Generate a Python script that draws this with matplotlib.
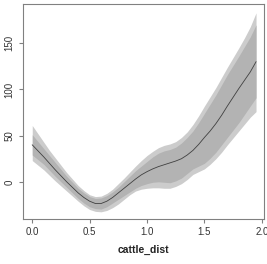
import numpy as np
import matplotlib
matplotlib.use("Agg")
import matplotlib.pyplot as plt

# values
cattle_dist = [0.0, 0.05, 0.1, 0.15, 0.2, 0.25, 0.3, 0.35, 0.4, 0.45, 0.5,
               0.55, 0.6, 0.65, 0.7, 0.75, 0.8, 0.85, 0.9, 0.95, 1.0,
               1.05, 1.1, 1.15, 1.2, 1.25, 1.3, 1.35, 1.4, 1.45, 1.5,
               1.55, 1.6, 1.65, 1.7, 1.75, 1.8, 1.85, 1.9, 1.95]
fit = [40, 33.5, 27, 20, 13, 6.5, 0, -6, -12, -17, -21,
       -23.5, -23.5, -21, -17, -12, -7, -2, 3, 7.5, 11,
       14, 16.5, 18.5, 20.5, 22.5, 25, 29, 34, 40.5, 48,
       55, 63, 72, 82, 91.5, 101, 110, 119, 130]
outer_hi = [61, 52, 43, 34, 26, 18, 10, 3, -4, -9.5, -14,
            -16, -15.5, -12.5, -8, -2, 4, 10.5, 17, 23, 28.5,
            33, 37, 39.5, 41, 43.5, 48, 54, 62, 71.5, 82,
            92, 102, 113, 124, 134.5, 145, 156, 168, 183]
outer_lo = [23, 18, 13, 7, 1, -4.5, -10, -15.5, -21, -26, -30,
            -32, -32.5, -31, -28, -24, -19, -14, -10, -8, -7,
            -6.5, -6.5, -7, -7, -5, -2, 2.5, 8, 11, 14,
            19, 25, 32, 40, 47.5, 55, 62.5, 70, 76]
inner_hi = [51, 43.5, 36, 28.5, 21, 13.5, 6, -0.5, -7, -12, -16,
            -18, -17.5, -15, -11, -6, 0, 6, 12, 17, 22,
            27, 31, 33.5, 35, 37.5, 42, 48, 55, 64, 74,
            84, 94, 105, 116, 126, 136, 146.5, 157, 170]
inner_lo = [29, 24, 19, 12.5, 6, 0, -6, -12, -18, -23, -27,
            -29, -29.5, -27, -23, -19, -15, -11, -7, -4, -2,
            -0.5, 0, -0.5, -1, 1, 4, 9, 14, 17, 20,
            25.5, 32, 40, 48, 56, 64, 73, 82, 91]
xticks = [0.0, 0.5, 1.0, 1.5, 2.0]
yticks = [0, 50, 100, 150]

plt.rcParams['font.family'] = ['Liberation Sans', 'DejaVu Sans']

fig = plt.figure(figsize=(2.67, 2.64), dpi=100)
ax = fig.add_axes([0.086, 0.170, 0.903, 0.815])

# confidence bands, then the fitted line
ax.fill_between(cattle_dist, outer_lo, outer_hi, color="#cccccc", lw=0)
ax.fill_between(cattle_dist, inner_lo, inner_hi, color="#b3b3b3", lw=0)
ax.plot(cattle_dist, fit, color="#404040", lw=0.6)

ax.set_xlim(-0.081, 2.02)
ax.set_ylim(-40.4, 192.6)
ax.set_xticks(xticks)
ax.set_xticklabels(["%.1f" % v for v in xticks])
ax.set_yticks(yticks)
ax.set_yticklabels([str(v) for v in yticks], rotation=90, va="center")

for s in ax.spines.values():
    s.set_color("#808080")
    s.set_linewidth(0.8)
ax.tick_params(colors="#808080", labelcolor="#333333", labelsize=7,
               length=3, width=0.8, pad=3)
ax.set_xlabel("cattle_dist", fontsize=7.5, fontweight="bold", color="#222222", labelpad=5)

fig.savefig("out.png", dpi=100)
